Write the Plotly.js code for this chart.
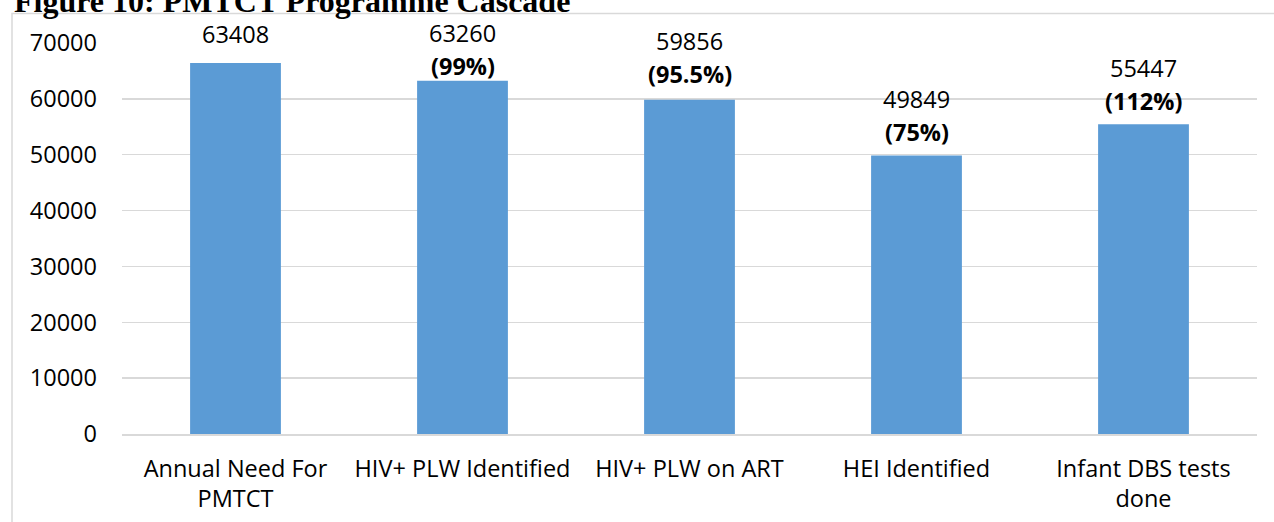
<!DOCTYPE html>
<html>
<head>
<meta charset="utf-8">
<script src="https://cdn.plot.ly/plotly-3.0.1.min.js"></script>
<style>
  html, body { margin: 0; padding: 0; background: #ffffff; }
  #chart { width: 1274px; height: 522px; }
</style>
</head>
<body>
<div id="chart"></div>
<script>
// ---- data ----
const categories = ['Annual Need For<br>PMTCT', 'HIV+ PLW Identified', 'HIV+ PLW on ART', 'HEI Identified', 'Infant DBS tests<br>done'];
const barValues = [66400, 63260, 59856, 49849, 55447];
const valueLabels = ['63408', '63260', '59856', '49849', '55447'];
const percentLabels = ['', '99%', '95.5%', '75%', '112%'];
const yTickValues = [0, 10000, 20000, 30000, 40000, 50000, 60000, 70000];

// ---- layout helpers (positions only) ----
const pctOffsets = [0, 15, 26, 24, 23];   // px above bar top for percent line
const lineGap = 33;
const singleOffset = 29;

const FONT = '"Open Sans", "Noto Sans", sans-serif';
const FS = 23.5;
const annotations = [];
categories.forEach((c, i) => {
  if (percentLabels[i]) {
    annotations.push({x: c, y: barValues[i], xref: 'x', yref: 'y', text: '<b>(' + percentLabels[i] + ')</b>',
      showarrow: false, yanchor: 'middle', yshift: pctOffsets[i], font: {family: FONT, size: FS, color: '#000'}});
    annotations.push({x: c, y: barValues[i], xref: 'x', yref: 'y', text: valueLabels[i],
      showarrow: false, yanchor: 'middle', yshift: pctOffsets[i] + lineGap, font: {family: FONT, size: FS, color: '#000'}});
  } else {
    annotations.push({x: c, y: barValues[i], xref: 'x', yref: 'y', text: valueLabels[i],
      showarrow: false, yanchor: 'middle', yshift: singleOffset, font: {family: FONT, size: FS, color: '#000'}});
  }
});
annotations.push({x: (12 - 122) / 1135, y: (434 - 1.0) / 391, xref: 'paper', yref: 'paper',
  text: '<b>Figure 10: PMTCT Programme Cascade</b>',
  showarrow: false, xanchor: 'left', yanchor: 'middle',
  font: {family: '"Liberation Serif", "Times New Roman", serif', size: 32, color: '#000'}});

const trace = {
  type: 'bar',
  x: categories,
  y: barValues,
  marker: {color: '#5b9bd5'},
  width: 0.4,
  hoverinfo: 'skip'
};

const layout = {
  width: 1274, height: 522,
  margin: {l: 122, r: 17, t: 43, b: 88},
  paper_bgcolor: '#ffffff', plot_bgcolor: '#ffffff',
  showlegend: false,
  xaxis: {
    type: 'category',
    showgrid: false, zeroline: false,
    showline: true, linecolor: '#d9d9d9', linewidth: 1.5,
    ticks: '', ticklabelstandoff: 13,
    tickfont: {family: FONT, size: FS, color: '#000'}
  },
  yaxis: {
    range: [0, 70000], tickvals: yTickValues, ticktext: yTickValues.map(String),
    showgrid: true, gridcolor: '#d9d9d9', gridwidth: 1.5,
    zeroline: false, showline: false,
    ticks: '', ticklabelstandoff: 24,
    tickfont: {family: FONT, size: FS, color: '#000'}
  },
  annotations: annotations,
  shapes: [{
    type: 'rect', xref: 'paper', yref: 'paper',
    x0: (12 - 122) / 1135, x1: (1290 - 122) / 1135,
    y0: -0.5, y1: (434 - 13.5) / 391,
    line: {color: '#d9d9d9', width: 1.5}, fillcolor: 'rgba(0,0,0,0)', layer: 'below'
  }]
};

Plotly.newPlot('chart', [trace], layout, {displayModeBar: false, staticPlot: true});
</script>
</body>
</html>
